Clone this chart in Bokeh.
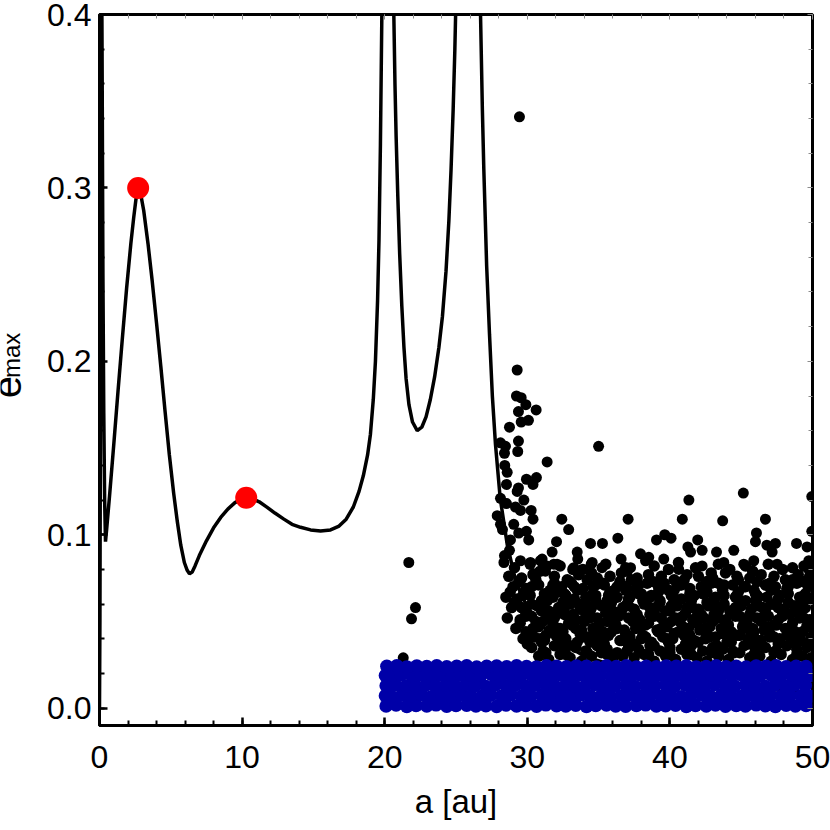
from math import pi
from bokeh.plotting import figure
from bokeh.layouts import row
from bokeh.models import LinearAxis, FixedTicker, Range1d, Label, CustomJSTickFormatter
from bokeh.embed import file_html
from bokeh.resources import INLINE

# ---------------- data ----------------
x_tick_values = [0, 10, 20, 30, 40, 50]
x_tick_labels = ["0", "10", "20", "30", "40", "50"]
y_tick_values = [0.0, 0.1, 0.2, 0.3, 0.4]
y_tick_labels = ["0.0", "0.1", "0.2", "0.3", "0.4"]

# analytic e_max(a) curve
curve_a = [0.0, 0.03, 0.06, 0.09, 0.11, 0.14, 0.18, 0.24, 0.30, 0.36, 0.42,
           0.5, 0.7, 1.0, 1.3, 1.6, 1.9, 2.2, 2.4, 2.55, 2.65, 2.71, 2.8, 2.9, 3.1, 3.4, 3.7, 4.0,
           4.3, 4.6, 4.9, 5.2, 5.45, 5.7, 5.95, 6.15, 6.31, 6.5, 6.7, 7.0, 7.5, 8.0, 8.5, 9.0, 9.5,
           10.0, 10.29, 10.7, 11.2, 11.76, 12.3, 12.93, 13.5, 14.1, 14.8, 15.5, 16.2, 16.8, 17.3,
           17.8, 18.2, 18.5, 18.8, 19.0, 19.2, 19.35, 19.5, 19.6, 19.7, 19.8, 19.85, 20.25, 20.6,
           20.64, 20.72, 20.8, 20.92, 21.05, 21.2, 21.35, 21.5, 21.7, 21.95, 22.28, 22.6, 22.9,
           23.2, 23.5, 23.8, 24.05, 24.3, 24.5, 24.65, 24.8, 24.92, 25.0, 25.8, 26.7, 26.72, 26.85,
           26.95, 27.15, 27.35, 27.55, 27.77, 28.1, 28.6, 29.17, 29.64, 30.3, 31.0, 32.0, 34.0, 37.0,
           41.0, 45.0, 50.0]
curve_e = [0.0, 0.05, 0.15, 0.30, 0.45, 0.45, 0.38, 0.25, 0.17, 0.12, 0.096,
           0.103, 0.122, 0.152, 0.183, 0.213, 0.242, 0.268, 0.283, 0.293, 0.298, 0.300, 0.299, 0.296, 0.287, 0.268, 0.246, 0.222,
           0.197, 0.171, 0.146, 0.124, 0.108, 0.094, 0.084, 0.0795, 0.0775, 0.0785, 0.082, 0.088, 0.0965, 0.104, 0.110, 0.1148, 0.1185,
           0.1207, 0.1213, 0.1208, 0.119, 0.1158, 0.1125, 0.109, 0.106, 0.1043, 0.1028, 0.1022, 0.1028, 0.105, 0.109,
           0.116, 0.125, 0.134, 0.146, 0.158, 0.178, 0.200, 0.235, 0.27, 0.325, 0.40, 0.44, 0.9, 0.44,
           0.40, 0.36, 0.33, 0.295, 0.262, 0.232, 0.208, 0.190, 0.175, 0.165, 0.160, 0.162, 0.168,
           0.178, 0.191, 0.208, 0.226, 0.252, 0.281, 0.31, 0.345, 0.38, 0.41, 0.9, 0.41, 0.40, 0.345,
           0.311, 0.255, 0.2155, 0.18, 0.152, 0.121, 0.094, 0.074, 0.064, 0.055, 0.048, 0.040, 0.030, 0.022,
           0.016, 0.012, 0.009]

# red markers
red_a = [2.71, 10.29]
red_e = [0.300, 0.1213]

# black scattered particles: dense cloud
black_dense_a = [
    30.8, 31.5, 32.3, 33.0, 33.8, 34.5, 35.2, 36.0, 36.7, 37.5, 38.2, 38.9, 39.7, 40.4, 41.2, 41.9, 42.6, 43.4, 44.1, 44.9, 45.6, 46.3, 47.1, 47.8, 48.6, 49.3, 49.9,
    30.3, 31.1, 31.9, 32.6, 33.4, 34.1, 34.9, 35.6, 36.3, 37.1, 37.8, 38.6, 39.3, 40.0, 40.8, 41.5, 42.3, 43.0, 43.7, 44.5, 45.2, 46.0, 46.7, 47.4, 48.2, 48.9, 49.6,
    29.7, 30.5, 31.2, 32.0, 32.7, 33.5, 34.2, 35.0, 35.7, 36.5, 37.2, 38.0, 38.7, 39.5, 40.2, 41.0, 41.7, 42.5, 43.2, 44.0, 44.7, 45.5, 46.2, 47.0, 47.7, 48.5, 49.2, 49.9,
    29.2, 29.9, 30.8, 31.6, 32.3, 33.1, 33.8, 34.6, 35.3, 36.1, 36.8, 37.6, 38.3, 39.1, 39.8, 40.6, 41.3, 42.1, 42.8, 43.6, 44.3, 45.1, 45.8, 46.6, 47.3, 48.1, 48.8, 49.6,
    28.6, 29.5, 30.3, 31.1, 31.9, 32.6, 33.4, 34.1, 34.9, 35.6, 36.4, 37.1, 37.9, 38.6, 39.4, 40.1, 40.9, 41.6, 42.4, 43.1, 43.9, 44.6, 45.4, 46.1, 46.9, 47.6, 48.4, 49.1, 49.8,
    28.9, 29.8, 30.7, 31.5, 32.2, 33.0, 33.7, 34.5, 35.2, 36.0, 36.7, 37.5, 38.2, 39.0, 39.7, 40.5, 41.2, 42.0, 42.7, 43.5, 44.2, 45.0, 45.7, 46.5, 47.2, 48.0, 48.7, 49.5,
    28.5, 29.3, 30.2, 31.0, 31.8, 32.6, 33.3, 34.1, 34.8, 35.6, 36.3, 37.1, 37.8, 38.6, 39.3, 40.1, 40.8, 41.6, 42.3, 43.1, 43.8, 44.6, 45.3, 46.1, 46.8, 47.6, 48.3, 49.1, 49.8,
    29.0, 29.9, 30.8, 31.6, 32.4, 33.1, 33.9, 34.6, 35.4, 36.1, 36.9, 37.6, 38.4, 39.2, 39.9, 40.7, 41.4, 42.2, 42.9, 43.7, 44.4, 45.2, 45.9, 46.7, 47.4, 48.2, 48.9, 49.7,
    28.7, 29.6, 30.4, 31.9, 32.8, 33.6, 34.9, 35.8, 36.6, 37.7, 38.5, 39.4, 40.3, 41.2, 42.0, 43.0, 43.9, 44.7, 45.6, 46.4, 47.3, 48.1, 49.0, 49.8,
    29.1, 30.2, 32.3, 33.9, 35.5, 36.9, 38.9, 40.6, 41.8, 43.4, 44.2, 45.3, 46.9, 48.6, 49.4,
]
black_dense_e = [
    0.030, 0.028, 0.031, 0.029, 0.027, 0.030, 0.032, 0.028, 0.030, 0.029, 0.031, 0.027, 0.030, 0.028, 0.031, 0.029, 0.027, 0.030, 0.028, 0.032, 0.029, 0.030, 0.027, 0.031, 0.028, 0.030, 0.029,
    0.035, 0.033, 0.036, 0.034, 0.035, 0.033, 0.036, 0.034, 0.032, 0.035, 0.034, 0.036, 0.033, 0.035, 0.034, 0.036, 0.033, 0.035, 0.034, 0.032, 0.036, 0.034, 0.035, 0.033, 0.036, 0.034, 0.035,
    0.040, 0.041, 0.039, 0.042, 0.040, 0.038, 0.041, 0.040, 0.042, 0.039, 0.041, 0.040, 0.038, 0.041, 0.040, 0.042, 0.039, 0.040, 0.041, 0.038, 0.042, 0.040, 0.039, 0.041, 0.040, 0.042, 0.039, 0.041,
    0.046, 0.044, 0.047, 0.045, 0.046, 0.048, 0.045, 0.046, 0.044, 0.047, 0.045, 0.046, 0.048, 0.045, 0.047, 0.044, 0.046, 0.045, 0.047, 0.046, 0.044, 0.047, 0.046, 0.045, 0.048, 0.046, 0.044, 0.047,
    0.052, 0.051, 0.053, 0.050, 0.052, 0.054, 0.051, 0.053, 0.052, 0.050, 0.053, 0.052, 0.051, 0.054, 0.052, 0.050, 0.053, 0.051, 0.052, 0.054, 0.051, 0.053, 0.050, 0.052, 0.053, 0.051, 0.054, 0.052, 0.051,
    0.058, 0.057, 0.059, 0.056, 0.058, 0.060, 0.057, 0.058, 0.059, 0.056, 0.058, 0.057, 0.060, 0.058, 0.056, 0.059, 0.058, 0.057, 0.059, 0.058, 0.056, 0.059, 0.057, 0.058, 0.060, 0.057, 0.059, 0.058,
    0.064, 0.063, 0.065, 0.062, 0.064, 0.066, 0.063, 0.064, 0.065, 0.062, 0.064, 0.063, 0.066, 0.064, 0.062, 0.065, 0.063, 0.064, 0.066, 0.063, 0.065, 0.064, 0.062, 0.065, 0.064, 0.063, 0.066, 0.064, 0.063,
    0.070, 0.069, 0.071, 0.068, 0.070, 0.072, 0.069, 0.070, 0.071, 0.068, 0.070, 0.069, 0.072, 0.070, 0.068, 0.071, 0.069, 0.070, 0.072, 0.069, 0.071, 0.070, 0.068, 0.071, 0.070, 0.069, 0.072, 0.070,
    0.076, 0.075, 0.077, 0.076, 0.074, 0.077, 0.075, 0.076, 0.078, 0.075, 0.077, 0.076, 0.074, 0.077, 0.076, 0.075, 0.078, 0.076, 0.075, 0.077, 0.076, 0.074, 0.077, 0.076,
    0.081, 0.083, 0.082, 0.080, 0.083, 0.081, 0.082, 0.084, 0.081, 0.083, 0.080, 0.082, 0.083, 0.081, 0.082,
]

# black particles filling the gaps of the dense cloud
black_fill_a = [
    30.0, 31.0, 32.1, 33.2, 34.4, 35.4, 36.6, 37.5, 38.9, 39.9, 41.1, 42.0, 43.3, 44.3, 45.5, 46.4, 47.6, 48.6, 49.7,
    29.5, 30.6, 31.8, 32.9, 34.0, 35.1, 36.2, 37.4, 38.5, 39.6, 40.7, 41.9, 43.0, 44.1, 45.2, 46.4, 47.5, 48.6, 49.7,
    29.1, 30.3, 31.4, 32.5, 33.6, 34.8, 35.9, 37.0, 38.1, 39.3, 40.4, 41.5, 42.6, 43.8, 44.9, 46.0, 47.1, 48.3, 49.4,
    29.4, 30.6, 31.9, 33.0, 34.2, 35.3, 36.5, 37.3, 38.8, 39.6, 41.0, 42.6, 43.4, 44.8, 46.1, 47.0, 48.6, 49.3,
    30.2, 31.3, 32.5, 33.7, 34.7, 35.9, 36.9, 38.1, 39.2, 40.3, 41.4, 42.5, 43.7, 44.9, 45.9, 47.0, 48.2, 49.3,
    28.8, 30.0, 31.2, 32.3, 33.5, 34.6, 35.8, 36.9, 38.0, 39.2, 40.3, 41.4, 42.6, 43.7, 44.8, 46.0, 47.1, 48.2, 49.5,
    29.9, 31.0, 32.1, 33.2, 34.4, 35.5, 36.6, 37.7, 38.9, 40.0, 41.1, 42.2, 43.4, 44.5, 45.6, 46.7, 47.9, 49.0,
    31.3, 32.7, 34.2, 35.6, 37.0, 38.5, 40.0, 41.5, 42.9, 44.4, 45.9, 47.3, 48.9,
    30.9, 32.4, 33.9, 35.3, 36.8, 38.3, 39.8, 41.3, 42.8, 44.3, 45.8, 47.3, 48.8,
    30.4, 31.9, 33.4, 34.9, 36.3, 37.9, 39.4, 40.9, 42.4, 43.9, 45.4, 46.9, 48.4, 49.8,
    29.9, 31.4, 32.9, 34.4, 35.9, 37.4, 38.9, 40.4, 41.9, 43.4, 44.9, 46.4, 47.9, 49.4,
    29.6, 31.1, 32.6, 34.1, 35.6, 37.1, 38.6, 40.1, 41.6, 43.1, 44.6, 46.1, 47.6, 49.1,
    29.7, 31.2, 32.7, 34.2, 35.7, 37.2, 38.7, 40.2, 41.7, 43.2, 44.7, 46.2, 47.7, 49.2,
    30.3, 31.8, 33.3, 34.8, 36.3, 37.8, 39.3, 40.8, 42.3, 43.8, 45.3, 46.8, 48.3, 49.8,
    30.9, 33.2, 34.5, 37.0, 39.9, 42.9, 45.8, 47.9,
]
black_fill_e = [
    0.037, 0.038, 0.037, 0.036, 0.038, 0.037, 0.039, 0.037, 0.036, 0.038, 0.037, 0.038, 0.036, 0.038, 0.037, 0.039, 0.037, 0.038, 0.037,
    0.049, 0.050, 0.048, 0.049, 0.050, 0.049, 0.048, 0.050, 0.049, 0.048, 0.050, 0.049, 0.050, 0.048, 0.049, 0.050, 0.048, 0.049, 0.050,
    0.061, 0.060, 0.062, 0.061, 0.060, 0.062, 0.061, 0.060, 0.062, 0.061, 0.060, 0.062, 0.061, 0.060, 0.061, 0.062, 0.060, 0.061, 0.062,
    0.073, 0.074, 0.072, 0.073, 0.074, 0.072, 0.073, 0.074, 0.073, 0.072, 0.074, 0.073, 0.072, 0.074, 0.073, 0.072, 0.074, 0.073,
    0.043, 0.042, 0.044, 0.043, 0.042, 0.044, 0.043, 0.042, 0.044, 0.043, 0.042, 0.044, 0.043, 0.042, 0.044, 0.043, 0.042, 0.044,
    0.067, 0.068, 0.066, 0.067, 0.068, 0.066, 0.067, 0.068, 0.066, 0.067, 0.068, 0.066, 0.067, 0.068, 0.067, 0.066, 0.068, 0.067, 0.066,
    0.055, 0.056, 0.055, 0.054, 0.056, 0.055, 0.056, 0.054, 0.055, 0.056, 0.055, 0.054, 0.056, 0.055, 0.054, 0.056, 0.055, 0.056,
    0.032, 0.031, 0.032, 0.031, 0.033, 0.031, 0.032, 0.031, 0.032, 0.033, 0.031, 0.032, 0.031,
    0.040, 0.039, 0.041, 0.040, 0.039, 0.041, 0.040, 0.039, 0.041, 0.040, 0.039, 0.041, 0.040,
    0.046, 0.047, 0.046, 0.047, 0.046, 0.047, 0.046, 0.047, 0.046, 0.047, 0.046, 0.047, 0.046, 0.047,
    0.053, 0.052, 0.053, 0.052, 0.053, 0.052, 0.053, 0.052, 0.053, 0.052, 0.053, 0.052, 0.053, 0.052,
    0.058, 0.059, 0.058, 0.059, 0.058, 0.059, 0.058, 0.059, 0.058, 0.059, 0.058, 0.059, 0.058, 0.059,
    0.065, 0.064, 0.065, 0.064, 0.065, 0.064, 0.065, 0.064, 0.065, 0.064, 0.065, 0.064, 0.065, 0.064,
    0.070, 0.071, 0.070, 0.071, 0.070, 0.071, 0.070, 0.071, 0.070, 0.071, 0.070, 0.071, 0.070, 0.071,
    0.079, 0.080, 0.078, 0.079, 0.080, 0.078, 0.079, 0.080,
]

# black scattered particles: sparse / excited ones
black_sparse_a = [
    29.45, 29.29, 29.24, 29.57, 29.90, 30.62, 29.38, 29.57, 30.08, 28.75,
    28.12, 28.47, 29.38, 29.33, 28.40, 35.00, 31.39, 28.42, 28.59, 29.94,
    30.64, 30.40, 28.54, 29.38, 29.29, 28.12, 28.54, 29.76, 29.17, 30.27,
    29.52, 27.89, 30.40, 32.42, 37.07, 41.33, 45.15, 40.87, 43.70, 46.70,
    28.12, 29.05, 28.26, 29.94, 32.90, 29.40, 30.10, 28.82, 32.05, 34.43,
    35.27, 36.35, 39.06, 39.64, 40.08, 41.95, 46.07, 47.40, 48.88, 46.80,
    46.00, 28.75, 31.74, 33.50, 41.26, 42.26, 43.27, 44.48, 47.17, 49.62,
    37.94, 38.52, 21.69, 28.40, 29.52, 30.92, 31.39, 32.09, 33.54, 34.48,
    35.24, 36.58, 37.24, 38.29, 39.57, 40.62, 42.26, 43.78, 45.18, 45.88,
    47.52, 49.74, 49.74, 22.16, 21.88, 21.30, 49.95, 49.95, 41.45, 34.55,
    28.36, 30.22, 31.04, 31.86, 33.26, 30.45, 31.27,
]
black_sparse_e = [
    0.341, 0.195, 0.180, 0.179, 0.175, 0.172, 0.171, 0.165, 0.166, 0.162,
    0.153, 0.151, 0.154, 0.148, 0.147, 0.151, 0.142, 0.140, 0.136, 0.132,
    0.133, 0.129, 0.129, 0.127, 0.125, 0.121, 0.118, 0.120, 0.116, 0.114,
    0.114, 0.111, 0.109, 0.109, 0.109, 0.120, 0.124, 0.109, 0.108, 0.109,
    0.106, 0.106, 0.103, 0.102, 0.103, 0.101, 0.097, 0.097, 0.096, 0.095,
    0.095, 0.098, 0.097, 0.100, 0.098, 0.097, 0.101, 0.095, 0.095, 0.094,
    0.096, 0.091, 0.090, 0.090, 0.093, 0.091, 0.090, 0.091, 0.090, 0.093,
    0.089, 0.087, 0.084, 0.088, 0.085, 0.085, 0.082, 0.083, 0.086, 0.083,
    0.081, 0.086, 0.081, 0.085, 0.086, 0.080, 0.082, 0.084, 0.083, 0.085,
    0.083, 0.085, 0.080, 0.058, 0.0515, 0.029, 0.122, 0.102, 0.090, 0.084,
    0.084, 0.084, 0.086, 0.083, 0.081, 0.0775, 0.079,
]

# blue (initially cold) particles
blue_a = [
    20.1, 20.8, 21.55, 22.2, 22.95, 23.6, 24.35, 25.0, 25.75, 26.4, 27.1, 27.85, 28.5, 29.25, 29.9, 30.65, 31.3, 32.05, 32.7, 33.4, 34.15, 34.8, 35.55, 36.2, 36.9, 37.65, 38.3, 39.05, 39.7, 40.4, 41.15, 41.8, 42.55, 43.2, 43.9, 44.65, 45.3, 46.05, 46.7, 47.4, 48.15, 48.8, 49.55,
    20.05, 20.45, 21.2, 21.85, 22.6, 23.25, 24.0, 24.65, 25.4, 26.05, 26.8, 27.45, 28.2, 28.85, 29.6, 30.25, 31.0, 31.65, 32.4, 33.05, 33.8, 34.45, 35.2, 35.85, 36.6, 37.25, 38.0, 38.65, 39.4, 40.05, 40.8, 41.45, 42.2, 42.85, 43.6, 44.25, 45.0, 45.65, 46.4, 47.05, 47.8, 48.45, 49.2, 49.85,
    20.1, 20.75, 21.5, 22.15, 22.9, 23.55, 24.3, 24.95, 25.7, 26.35, 27.1, 27.75, 28.5, 29.15, 29.9, 30.55, 31.3, 31.95, 32.7, 33.35, 34.1, 34.75, 35.5, 36.15, 36.9, 37.55, 38.3, 38.95, 39.7, 40.35, 41.1, 41.75, 42.5, 43.15, 43.9, 44.55, 45.3, 45.95, 46.7, 47.35, 48.1, 48.75, 49.5,
    20.05, 20.5, 21.15, 21.9, 22.55, 23.3, 23.95, 24.7, 25.35, 26.1, 26.75, 27.5, 28.15, 28.9, 29.55, 30.3, 30.95, 31.7, 32.35, 33.1, 33.75, 34.5, 35.15, 35.9, 36.55, 37.3, 37.95, 38.7, 39.35, 40.1, 40.75, 41.5, 42.15, 42.9, 43.55, 44.3, 44.95, 45.7, 46.35, 47.1, 47.75, 48.5, 49.15, 49.9,
    20.15, 20.85, 21.55, 22.25, 22.95, 23.65, 24.35, 25.05, 25.75, 26.45, 27.15, 27.85, 28.55, 29.25, 29.95, 30.65, 31.35, 32.05, 32.75, 33.45, 34.15, 34.85, 35.55, 36.25, 36.95, 37.65, 38.35, 39.05, 39.75, 40.45, 41.15, 41.85, 42.55, 43.25, 43.95, 44.65, 45.35, 46.05, 46.75, 47.45, 48.15, 48.85, 49.55,
]
blue_e = [
    0.0012, 0.0018, 0.0010, 0.0016, 0.0013, 0.0019, 0.0011, 0.0015, 0.0017, 0.0012, 0.0014, 0.0010, 0.0018, 0.0013, 0.0016, 0.0011, 0.0019, 0.0014, 0.0012, 0.0017, 0.0010, 0.0015, 0.0018, 0.0013, 0.0011, 0.0016, 0.0019, 0.0012, 0.0014, 0.0017, 0.0010, 0.0015, 0.0013, 0.0018, 0.0011, 0.0016, 0.0012, 0.0019, 0.0014, 0.0010, 0.0017, 0.0013, 0.0015,
    0.0071, 0.0068, 0.0075, 0.0070, 0.0077, 0.0066, 0.0073, 0.0069, 0.0076, 0.0071, 0.0067, 0.0074, 0.0070, 0.0078, 0.0068, 0.0072, 0.0075, 0.0066, 0.0073, 0.0070, 0.0077, 0.0069, 0.0074, 0.0067, 0.0071, 0.0076, 0.0068, 0.0073, 0.0070, 0.0075, 0.0066, 0.0072, 0.0078, 0.0069, 0.0074, 0.0071, 0.0067, 0.0076, 0.0070, 0.0073, 0.0068, 0.0075, 0.0071, 0.0069,
    0.0129, 0.0133, 0.0126, 0.0131, 0.0135, 0.0127, 0.0132, 0.0128, 0.0136, 0.0130, 0.0125, 0.0134, 0.0129, 0.0132, 0.0127, 0.0135, 0.0130, 0.0126, 0.0133, 0.0128, 0.0131, 0.0136, 0.0127, 0.0130, 0.0134, 0.0125, 0.0132, 0.0129, 0.0135, 0.0128, 0.0133, 0.0126, 0.0131, 0.0136, 0.0129, 0.0127, 0.0134, 0.0130, 0.0125, 0.0132, 0.0128, 0.0135, 0.0130,
    0.0188, 0.0185, 0.0191, 0.0186, 0.0193, 0.0184, 0.0190, 0.0187, 0.0192, 0.0185, 0.0189, 0.0194, 0.0186, 0.0190, 0.0184, 0.0192, 0.0188, 0.0185, 0.0191, 0.0187, 0.0193, 0.0186, 0.0189, 0.0184, 0.0192, 0.0188, 0.0190, 0.0185, 0.0193, 0.0187, 0.0191, 0.0184, 0.0189, 0.0192, 0.0186, 0.0190, 0.0194, 0.0185, 0.0188, 0.0191, 0.0186, 0.0192, 0.0187, 0.0190,
    0.0241, 0.0244, 0.0238, 0.0243, 0.0240, 0.0245, 0.0239, 0.0242, 0.0244, 0.0237, 0.0241, 0.0243, 0.0239, 0.0245, 0.0240, 0.0238, 0.0244, 0.0242, 0.0239, 0.0243, 0.0241, 0.0237, 0.0244, 0.0240, 0.0245, 0.0238, 0.0242, 0.0239, 0.0243, 0.0241, 0.0244, 0.0238, 0.0240, 0.0245, 0.0239, 0.0242, 0.0237, 0.0243, 0.0241, 0.0244, 0.0239, 0.0242, 0.0240,
]

# ---------------- figure ----------------
FONT = "Liberation Sans"
LEFT_W = 40

p = figure(width=830 - LEFT_W, height=830, output_backend="svg", toolbar_location=None,
           x_range=Range1d(0, 50), y_range=Range1d(-0.01, 0.4),
           min_border_left=99 - LEFT_W, min_border_right=18, min_border_top=14, min_border_bottom=105)
p.grid.visible = False
p.outline_line_color = "black"
p.outline_line_width = 3
p.background_fill_color = "white"
p.border_fill_color = "white"

x_minor = [v * 2 for v in range(26)]
y_minor = [v * 0.02 for v in range(21)]

fmt_code = """
for (let i = 0; i < vals.length; i++) {
  if (Math.abs(vals[i] - tick) < 1e-9) { return labels[i]; }
}
return "";
"""

xa = p.xaxis[0]
xa.ticker = FixedTicker(ticks=x_tick_values, minor_ticks=x_minor)
xa.formatter = CustomJSTickFormatter(args=dict(vals=x_tick_values, labels=x_tick_labels), code=fmt_code)
ya = p.yaxis[0]
ya.ticker = FixedTicker(ticks=y_tick_values, minor_ticks=y_minor)
ya.formatter = CustomJSTickFormatter(args=dict(vals=y_tick_values, labels=y_tick_labels), code=fmt_code)

for ax in (xa, ya):
    ax.axis_line_color = "black"
    ax.axis_line_width = 3
    ax.major_tick_in = 8
    ax.major_tick_out = 0
    ax.minor_tick_in = 5
    ax.minor_tick_out = 0
    ax.major_tick_line_width = 2.5
    ax.minor_tick_line_width = 2
    ax.major_tick_line_color = "black"
    ax.minor_tick_line_color = "black"
    ax.major_label_text_font = FONT
    ax.major_label_text_font_size = "32px"
    ax.major_label_text_color = "black"

xa.major_label_standoff = 20
ya.major_label_standoff = 8
xa.axis_label = "a [au]"
xa.axis_label_text_font = FONT
xa.axis_label_text_font_size = "33px"
xa.axis_label_text_font_style = "normal"
xa.axis_label_text_color = "black"
xa.axis_label_standoff = 12

# thin gray ticks (no labels) on top and right frame edges
blank = CustomJSTickFormatter(code="return '';")
top = LinearAxis(ticker=FixedTicker(ticks=x_tick_values, minor_ticks=x_minor), formatter=blank)
right = LinearAxis(ticker=FixedTicker(ticks=y_tick_values, minor_ticks=y_minor), formatter=blank)
for ax in (top, right):
    ax.axis_line_color = None
    ax.major_tick_in = 5
    ax.major_tick_out = 0
    ax.minor_tick_in = 4
    ax.minor_tick_out = 0
    ax.major_tick_line_color = "#8c8c8c"
    ax.minor_tick_line_color = "#8c8c8c"
    ax.major_tick_line_width = 1
    ax.minor_tick_line_width = 1
    ax.major_label_text_font_size = "8px"
    ax.major_label_standoff = 0
p.add_layout(top, "above")
p.add_layout(right, "right")

# glyphs
p.line(curve_a, curve_e, line_color="black", line_width=3.5)
p.scatter(black_dense_a, black_dense_e, size=11.5, fill_color="black", line_color=None)
p.scatter(black_fill_a, black_fill_e, size=11.5, fill_color="black", line_color=None)
p.scatter(black_sparse_a, black_sparse_e, size=11, fill_color="black", line_color=None)
p.scatter(blue_a, blue_e, size=13.5, fill_color="#0000a8", line_color=None)
p.scatter(red_a, red_e, size=22, fill_color="#ff0000", line_color=None)

# narrow strip on the left holding the rotated y-axis title e_max
lab = figure(width=LEFT_W, height=830, output_backend="svg", toolbar_location=None,
             x_range=Range1d(0, LEFT_W), y_range=Range1d(0, 830),
             x_axis_type=None, y_axis_type=None, min_border=0)
lab.grid.visible = False
lab.outline_line_color = None
lab.background_fill_color = "white"
lab.border_fill_color = "white"
lab.add_layout(Label(x=6, y=395, text="e", angle=pi / 2,
                     text_align="center", text_baseline="alphabetic", text_font=FONT,
                     text_font_size="40px", text_color="black"))
lab.add_layout(Label(x=11, y=432, text="max", angle=pi / 2,
                     text_align="center", text_baseline="alphabetic", text_font=FONT,
                     text_font_size="24px", text_color="black"))

layout = row(lab, p)
open("out.html", "w").write(file_html(layout, INLINE))
